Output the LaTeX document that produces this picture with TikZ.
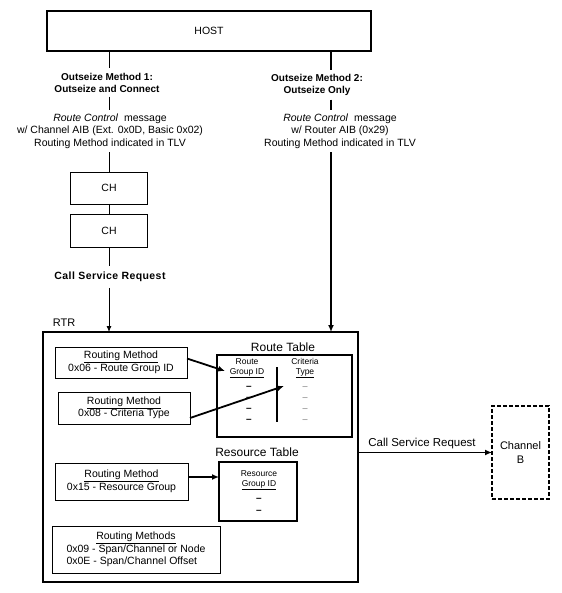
\documentclass[tikz,border=0pt]{standalone}
\usepackage{fontspec}
\setmainfont{Liberation Sans}
\usetikzlibrary{arrows.meta}
\begin{document}
\begin{tikzpicture}[x=1pt,y=-1pt,
  every node/.style={font=\fontsize{10.5}{12.5}\selectfont, inner sep=0pt, outer sep=0pt},
  box/.style={draw, line width=0.9pt, align=center},
  boldtxt/.style={font=\fontsize{10}{12}\selectfont\bfseries, align=center},
  plaintxt/.style={align=center},
  small/.style={font=\fontsize{8.5}{10}\selectfont, align=center},
  thin/.style={line width=0.9pt},
  thick2/.style={line width=2pt},
  arr/.style={-{Latex[length=6pt,width=5pt]}},
  darr/.style={line width=1.8pt, -{Latex[length=7pt,width=6pt]}},
  dashbox/.style={draw, line width=1.2pt, dash pattern=on 4pt off 2pt, align=center}
]
\useasboundingbox (0,0) rectangle (561,593);

% HOST
\node[box, line width=1.3pt, minimum width=324pt, minimum height=40pt] (host) at (209,31) {HOST};

% left branch
\node[boldtxt] (m1) at (107,83) {Outseize Method 1:\\Outseize and Connect};
\node[plaintxt] (rc1) at (110,131) {\textit{Route Control}\ \ message\\w/ Channel AIB (Ext. 0x0D, Basic 0x02)\\Routing Method indicated in TLV};
\node[box, minimum width=77pt, minimum height=32pt] (ch1) at (109,188) {CH};
\node[box, minimum width=77pt, minimum height=33pt] (ch2) at (109,230.5) {CH};
\node[boldtxt, font=\fontsize{10.5}{12}\selectfont\bfseries\addfontfeature{LetterSpace=4}] (csr1) at (110,277) {Call Service Request};

% right branch
\node[boldtxt] (m2) at (317,85) {Outseize Method 2:\\Outseize Only};
\node[plaintxt] (rc2) at (340,131) {\textit{Route Control}\ \ message\\w/ Router AIB (0x29)\\Routing Method indicated in TLV};

% RTR box
\node[draw, line width=2pt, minimum width=315pt, minimum height=250pt] (rtr) at (200.5,457) {};
\node[font=\fontsize{11}{13}\selectfont] (rtrlbl) at (64,323) {RTR};

% routing method boxes
\node[box, minimum width=132pt, minimum height=31pt] (rm1) at (121,362.5) {\underline{Routing Method}\\0x06 - Route Group ID};
\node[box, minimum width=132pt, minimum height=32pt] (rm2) at (124,408) {\underline{Routing Method}\\0x08 - Criteria Type};
\node[box, minimum width=133pt, minimum height=37pt] (rm3) at (121.5,481.5) {\underline{Routing Method}\\0x15 - Resource Group};
\node[box, minimum width=168pt, minimum height=47pt, font=\fontsize{10.5}{12}\selectfont] (rm4) at (136,549.5) {\begin{tabular}{@{}l@{}}\multicolumn{1}{@{}c@{}}{\underline{Routing Methods}}\\0x09 - Span/Channel or Node\\0x0E - Span/Channel Offset\end{tabular}};

% Route table
\node[box, line width=1.3pt, minimum width=135pt, minimum height=82pt] (rt) at (284.5,396) {};
\node[font=\fontsize{12}{14}\selectfont] (rtl) at (283,347) {Route Table};
\node[small] (rth1) at (247,368) {Route\\\underline{Group ID}};
\node[small] (rth2) at (305,368) {Criteria\\\underline{Type}};
\coordinate (dvtop) at (277,367);
\coordinate (dvbot) at (277,422);
\draw[thick2] (dvtop) -- (dvbot);
\foreach \yy [count=\i] in {388,399,410,421} {
  \node[font=\fontsize{10}{10}\selectfont\bfseries] (ld\i) at (249,\yy) {\textendash};
  \node[font=\fontsize{9}{10}\selectfont, text=black!55] (rd\i) at (305,\yy) {\textendash};
}

% Resource table
\node[box, line width=1.3pt, minimum width=78pt, minimum height=59pt] (rs) at (258,491.5) {};
\node[font=\fontsize{12}{14}\selectfont] (rsl) at (257,452) {Resource Table};
\node[small] (rsh) at (259,480) {Resource\\\underline{Group ID}};
\node[font=\fontsize{10}{10}\selectfont\bfseries] (rsd1) at (259,500) {\textendash};
\node[font=\fontsize{10}{10}\selectfont\bfseries] (rsd2) at (259,512) {\textendash};

% Channel B
\node[dashbox, minimum width=57pt, minimum height=93pt, font=\fontsize{11}{14}\selectfont] (chb) at (520.5,452.5) {Channel\\B};
\node[font=\fontsize{11.5}{13}\selectfont] (csr2) at (422,444) {Call Service Request};

% connectors left
\draw[thin] (host.south -| ch1.center) -- ([yshift=5pt]m1.north -| ch1.center);
\draw[thin] ([yshift=-4pt]m1.south -| ch1.center) -- ([yshift=4pt]rc1.north -| ch1.center);
\draw[thin] ([yshift=-4pt]rc1.south -| ch1.center) -- (ch1.north);
\draw[thin] (ch1.south) -- (ch2.north);
\draw[thin] (ch2.south) -- ([yshift=6pt]csr1.north -| ch2.south);
\draw[thin, arr] ([yshift=-6pt]csr1.south -| ch2.south) -- (rtr.north -| ch2.south);

% connectors right
\coordinate (rx) at (331,0);
\draw[thick2] (host.south -| rx) -- ([yshift=4pt]m2.north -| rx);
\draw[thick2] ([yshift=-4pt]m2.south -| rx) -- ([yshift=4pt]rc2.north -| rx);
\draw[thick2, -{Latex[length=7pt,width=6pt]}] ([yshift=-4pt]rc2.south -| rx) -- (rtr.north -| rx);

% arrows inside RTR
\coordinate (a1) at (225,371);
\coordinate (a2) at (284,386);
\draw[darr] ([yshift=4pt]rm1.east) -- (a1);
\draw[darr] ([yshift=-10pt]rm2.east) -- (a2);
\coordinate (a3) at ([yshift=4.5pt]rm3.east);
\draw[darr] (a3) -- (a3 -| rs.west);
\draw[darr] (rtr.east |- chb.west) -- (chb.west);
\end{tikzpicture}
\end{document}
